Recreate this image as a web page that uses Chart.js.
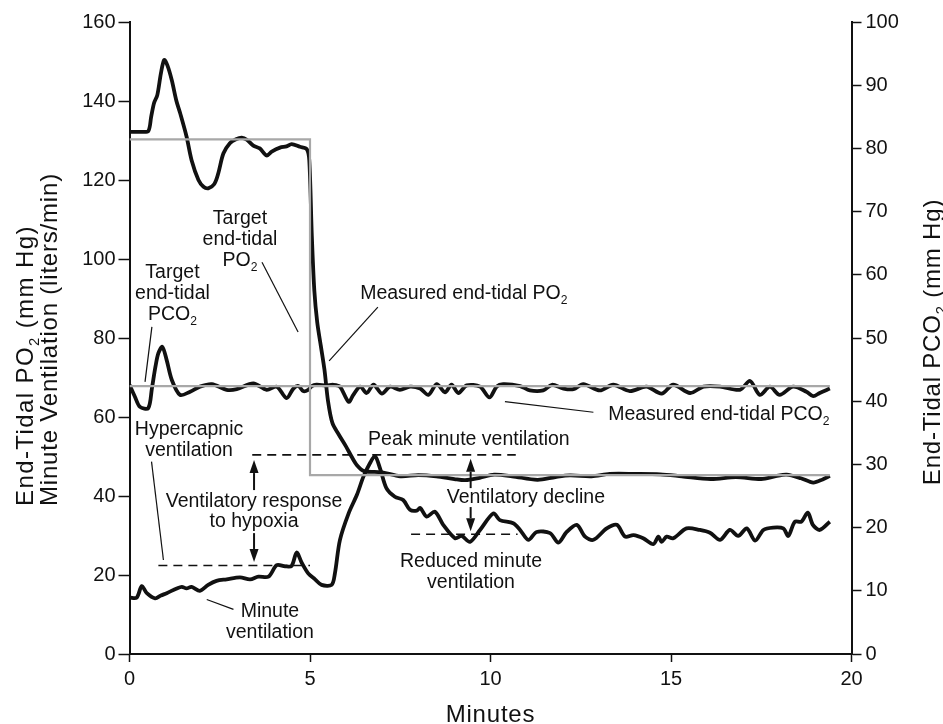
<!DOCTYPE html>
<html>
<head>
<meta charset="utf-8">
<script src="https://cdn.jsdelivr.net/npm/chart.js@4.4.1/dist/chart.umd.min.js"></script>
<style>
  html, body { margin: 0; padding: 0; background: #fff; }
  #wrap { width: 943px; height: 724px; position: relative; }
</style>
</head>
<body>
<div id="wrap"><canvas id="chart"></canvas></div>
<script>
// ---- data ----
// measured end-tidal PO2 (left axis, mm Hg)
const po2Minutes = [0, 0.3, 0.52, 0.6, 0.68, 0.77, 0.87, 0.96, 1.05, 1.17, 1.3, 1.4, 1.58, 1.72, 1.91, 2.05, 2.18, 2.35, 2.46, 2.6, 2.78, 2.95, 3.11, 3.25, 3.43, 3.61, 3.8, 3.94, 4.17, 4.35, 4.49, 4.72, 4.91,
  4.98, 5.05, 5.12, 5.2, 5.3, 5.4, 5.5, 5.62, 5.8, 6.0, 6.15, 6.3, 6.5, 7.0, 7.5, 8.0, 8.5, 9.0, 9.3, 9.7, 10.1, 10.6, 11.3, 11.8, 12.2, 12.8, 13.3, 14.0, 14.7, 15.3, 16.1, 16.8, 17.5, 17.9, 18.2, 18.6, 18.94, 19.2, 19.4];
const po2Measured = [132.2, 132.2, 132.4, 136, 139.5, 141.5, 147, 150.4, 149, 145.3, 140, 137, 131, 125, 120, 118.3, 117.9, 119, 121.7, 126.7, 129.3, 130.3, 130.7, 130.2, 128.7, 128, 126.2, 127.2, 128.2, 128.5, 129.1, 128.4, 127.8,
  125, 106, 92, 84, 78, 72, 64, 58.5, 55.5, 52.5, 50, 47.8, 46.3, 46, 45, 45.3, 45, 44.3, 44, 44.6, 45.4, 45, 44.1, 44.8, 45.2, 45, 45.6, 45.6, 45.5, 45, 44.3, 44.8, 44.3, 45, 45.4, 44.5, 43.4, 44.2, 45.1];

// target end-tidal PO2 (step)
const targetPo2Minutes = [0, 5, 5, 19.4];
const targetPo2 = [130.3, 130.3, 45.3, 45.3];

// measured end-tidal PCO2 (right axis, mm Hg)
const pco2Minutes = [0, 0.15, 0.29, 0.52, 0.62, 0.72, 0.8, 0.91, 1.03, 1.17, 1.4, 1.68, 1.95, 2.28, 2.69, 2.97, 3.43, 3.8, 4.08, 4.35, 4.54, 4.68, 4.81, 4.95, 5.05, 5.18, 5.45, 5.65, 5.83, 6.07, 6.2, 6.39, 6.57, 6.76, 6.99, 7.22, 7.49, 7.77, 8.05, 8.28, 8.51, 8.74, 8.92, 9.11, 9.34, 9.71, 9.97, 10.17, 10.35, 10.82, 11.09, 11.46, 11.7, 12.02, 12.3, 12.57, 13.03, 13.4, 13.86, 14.32, 14.74, 15.06, 15.53, 15.9, 16.36, 16.91, 17.19, 17.46, 17.74, 18.01, 18.38, 18.75, 18.94, 19.12, 19.4];
const pco2Measured = [42.6, 40.7, 39.1, 38.9, 42, 45.5, 47.6, 48.6, 46.5, 43.4, 41, 41.5, 42.3, 42.7, 41.8, 41.9, 42.8, 41.8, 42.3, 40.5, 42, 42.4, 41.6, 41.8, 42.4, 42.6, 42.5, 42.6, 42.3, 39.9, 41, 42.3, 41.3, 42.6, 41.2, 42.3, 41.8, 42.3, 42, 41, 42.7, 41.4, 42.6, 41.3, 42.5, 42.3, 40.6, 42.3, 42.7, 42.4, 41.7, 41.7, 42.6, 42, 41.9, 42.7, 41.7, 42.6, 41.6, 42.3, 41.2, 42.6, 41.3, 42.3, 42.3, 41.8, 43.2, 41, 42.3, 41, 42.3, 41.5, 40.8, 41.3, 42];

// target end-tidal PCO2
const targetPco2Minutes = [0, 19.4];
const targetPco2 = [42.4, 42.4];

// minute ventilation (left axis, liters/min)
const ventMinutes = [0, 0.2, 0.34, 0.48, 0.71, 0.87, 1.03, 1.31, 1.45, 1.58, 1.72, 1.95, 2.18, 2.41, 2.69, 3.06, 3.34, 3.57, 3.85, 4.08, 4.31, 4.49, 4.63, 4.77, 4.95, 5.14, 5.32, 5.6, 5.69, 5.83, 6.07, 6.3, 6.48, 6.66, 6.8, 6.94, 7.12, 7.35, 7.58, 7.77, 7.96, 8.05, 8.23, 8.46, 8.69, 9.02, 9.2, 9.43, 9.71, 10.08, 10.26, 10.63, 10.82, 11.05, 11.28, 11.65, 11.88, 12.11, 12.39, 12.62, 12.85, 13.22, 13.5, 13.73, 13.96, 14.23, 14.51, 14.65, 14.74, 14.88, 15.06, 15.43, 15.8, 16.08, 16.36, 16.63, 16.86, 17.1, 17.33, 17.56, 17.83, 18.11, 18.25, 18.43, 18.61, 18.79, 18.93, 19.12, 19.4];
const ventilation = [14.3, 14.3, 17.2, 15.4, 14.1, 14.8, 15.4, 16.6, 17, 16.6, 17, 16, 17.5, 18.5, 18.9, 19.4, 18.9, 19.6, 19.6, 22.5, 22.2, 22.3, 25.7, 23.1, 20.4, 18.9, 17.5, 17.5, 20.4, 28.9, 35.6, 40.3, 44.9, 48.3, 50.1, 47, 41.9, 39.8, 39, 36.5, 36.3, 37, 34.8, 36, 32.7, 29.3, 29.9, 28.4, 31.4, 35.6, 33.9, 33.1, 31.4, 28.9, 30.9, 30.6, 28.2, 30.9, 32.7, 29.7, 28.9, 31.8, 32.7, 29.7, 30.1, 29.3, 27.8, 29.7, 28.4, 29.7, 29.3, 31.8, 31.4, 30.7, 28.9, 31.4, 29.9, 31.8, 28.7, 31.4, 32, 31.8, 29.9, 33.5, 33.5, 35.8, 32.7, 31.4, 33.5];

// dashed reference levels (left axis)
const hypercapnicLevelMinutes = [0.8, 5.0];
const hypercapnicLevel = [22.4, 22.4];
const peakLevelMinutes = [3.4, 10.7];
const peakLevel = [50.4, 50.4];
const reducedLevelMinutes = [7.8, 10.75];
const reducedLevel = [30.3, 30.3];

const xTicks = [0, 5, 10, 15, 20];

// ---- annotations (data coordinates, "_2" = subscript) ----
const labels = [
  { x: 3.06, y: 108.8, lines: ['Target', 'end-tidal', 'PO_2'], align: 'center' },
  { x: 1.19, y: 95.1, lines: ['Target', 'end-tidal', 'PCO_2'], align: 'center' },
  { x: 6.39, y: 90.0, lines: ['Measured end-tidal PO_2'], align: 'left' },
  { x: 13.26, y: 59.2, lines: ['Measured end-tidal PCO_2'], align: 'left' },
  { x: 1.65, y: 55.4, lines: ['Hypercapnic', 'ventilation'], align: 'center' },
  { x: 9.40, y: 52.9, lines: ['Peak minute ventilation'], align: 'center' },
  { x: 3.45, y: 37.3, lines: ['Ventilatory response', 'to hypoxia'], align: 'center' },
  { x: 10.98, y: 38.2, lines: ['Ventilatory decline'], align: 'center' },
  { x: 9.46, y: 22.1, lines: ['Reduced minute', 'ventilation'], align: 'center' },
  { x: 3.89, y: 9.4, lines: ['Minute', 'ventilation'], align: 'center' }
];
const leaders = [
  [3.67, 99.2, 4.67, 81.5],
  [0.62, 82.8, 0.43, 68.9],
  [6.88, 87.8, 5.53, 74.2],
  [10.40, 63.9, 12.85, 61.2],
  [0.61, 48.7, 0.94, 23.8],
  [2.14, 13.8, 2.88, 11.3]
];
const arrows = [
  { x: 3.45, from: 41.5, to: 49.1 },
  { x: 3.45, from: 30.6, to: 23.3 },
  { x: 9.45, from: 42.0, to: 49.4 },
  { x: 9.45, from: 37.2, to: 31.1 }
];

const FONT = '"Liberation Sans", Arial, Helvetica, sans-serif';
const INK = '#111';
const GREY = '#a8a8a8';

function pts(xs, ys) {
  return xs.map((t, i) => ({ x: t, y: ys[i] }));
}

// draw text with "_2" style subscripts
function drawRich(ctx, text, x, y, size, align) {
  const parts = text.split(/(_\d)/).filter(Boolean);
  const subSize = size * 0.62;
  const widths = parts.map(p => {
    ctx.font = (p[0] === '_' ? subSize : size) + 'px ' + FONT;
    return ctx.measureText(p[0] === '_' ? p.slice(1) : p).width;
  });
  const total = widths.reduce((a, b) => a + b, 0);
  let cx = align === 'center' ? x - total / 2 : (align === 'right' ? x - total : x);
  ctx.textAlign = 'left';
  ctx.textBaseline = 'alphabetic';
  parts.forEach((p, i) => {
    const sub = p[0] === '_';
    ctx.font = (sub ? subSize : size) + 'px ' + FONT;
    ctx.fillText(sub ? p.slice(1) : p, cx, sub ? y + size * 0.27 : y);
    cx += widths[i];
  });
}

function drawArrow(ctx, x, y0, y1) {
  const dir = y1 > y0 ? 1 : -1;
  const headLen = 13, headHalf = 4.5;
  ctx.beginPath();
  ctx.moveTo(x, y0);
  ctx.lineTo(x, y1 - dir * headLen);
  ctx.lineWidth = 2;
  ctx.stroke();
  ctx.beginPath();
  ctx.moveTo(x, y1);
  ctx.lineTo(x - headHalf, y1 - dir * headLen);
  ctx.lineTo(x + headHalf, y1 - dir * headLen);
  ctx.closePath();
  ctx.fill();
}

const annotationPlugin = {
  id: 'annotations',
  afterDraw(chart) {
    const { ctx, chartArea, scales: { x, y } } = chart;
    const px = t => x.getPixelForValue(t);
    const py = v => y.getPixelForValue(v);
    ctx.save();
    ctx.fillStyle = INK;
    ctx.strokeStyle = INK;

    ctx.lineWidth = 1.2;
    leaders.forEach(l => {
      ctx.beginPath();
      ctx.moveTo(px(l[0]), py(l[1]));
      ctx.lineTo(px(l[2]), py(l[3]));
      ctx.stroke();
    });

    arrows.forEach(a => drawArrow(ctx, px(a.x), py(a.from), py(a.to)));

    labels.forEach(l => {
      l.lines.forEach((line, i) => drawRich(ctx, line, px(l.x), py(l.y) + i * 20.8, 19.5, l.align));
    });

    // axis titles
    ctx.letterSpacing = '0.8px';
    drawRich(ctx, 'Minutes', (chartArea.left + chartArea.right) / 2, chartArea.bottom + 68, 24, 'center');

    ctx.save();
    ctx.translate(32.5, 506);
    ctx.rotate(-Math.PI / 2);
    ctx.letterSpacing = '1.4px';
    drawRich(ctx, 'End-Tidal PO_2 (mm Hg)', 0, 0, 24, 'left');
    ctx.restore();

    ctx.save();
    ctx.translate(56.5, 506);
    ctx.rotate(-Math.PI / 2);
    drawRich(ctx, 'Minute Ventilation (liters/min)', 0, 0, 24, 'left');
    ctx.restore();

    ctx.save();
    ctx.translate(940, 342);
    ctx.rotate(-Math.PI / 2);
    drawRich(ctx, 'End-Tidal PCO_2 (mm Hg)', 0, 0, 24, 'center');
    ctx.restore();

    ctx.restore();
  }
};

const curve = (data, axis, extra) => Object.assign({
  data, yAxisID: axis, borderColor: INK, borderWidth: 3.8, pointRadius: 0,
  tension: 0.3, fill: false
}, extra || {});

new Chart(document.getElementById('chart'), {
  type: 'line',
  data: {
    datasets: [
      curve(pts(targetPo2Minutes, targetPo2), 'y', { borderColor: GREY, borderWidth: 2.2, tension: 0 }),
      curve(pts(targetPco2Minutes, targetPco2), 'y1', { borderColor: GREY, borderWidth: 2.2, tension: 0 }),
      curve(pts(po2Minutes, po2Measured), 'y'),
      curve(pts(pco2Minutes, pco2Measured), 'y1'),
      curve(pts(ventMinutes, ventilation), 'y'),
      curve(pts(hypercapnicLevelMinutes, hypercapnicLevel), 'y', { borderWidth: 1.6, borderDash: [9, 6], tension: 0 }),
      curve(pts(peakLevelMinutes, peakLevel), 'y', { borderWidth: 1.6, borderDash: [9, 6], tension: 0 }),
      curve(pts(reducedLevelMinutes, reducedLevel), 'y', { borderWidth: 1.6, borderDash: [9, 6], tension: 0 })
    ]
  },
  options: {
    responsive: true,
    maintainAspectRatio: false,
    animation: false,
    layout: { padding: { top: 22, left: 0, right: 0, bottom: 0 } },
    plugins: { legend: { display: false }, tooltip: { enabled: false } },
    scales: {
      x: {
        type: 'linear', min: 0, max: 20,
        afterBuildTicks: s => { s.ticks = xTicks.map(v => ({ value: v })); },
        afterFit: s => { s.height = 70; },
        border: { display: true, color: INK, width: 2 },
        grid: { drawOnChartArea: false, drawTicks: true, tickLength: 8, color: INK, tickWidth: 1.5 },
        ticks: { color: INK, padding: 5, maxRotation: 0, font: { family: FONT, size: 20 } }
      },
      y: {
        position: 'left', min: 0, max: 160,
        afterFit: s => { s.width = 129.5; },
        border: { display: true, color: INK, width: 2 },
        grid: { drawOnChartArea: false, drawTicks: true, tickLength: 11, color: INK, tickWidth: 1.5 },
        ticks: { stepSize: 20, color: INK, padding: 3, font: { family: FONT, size: 20 } }
      },
      y1: {
        position: 'right', min: 0, max: 100,
        afterFit: s => { s.width = 91.5; },
        border: { display: true, color: INK, width: 2 },
        grid: { drawOnChartArea: false, drawTicks: true, tickLength: 10, color: INK, tickWidth: 1.5 },
        ticks: { stepSize: 10, color: INK, padding: 4, font: { family: FONT, size: 20 } }
      }
    }
  },
  plugins: [annotationPlugin]
});
</script>
</body>
</html>
